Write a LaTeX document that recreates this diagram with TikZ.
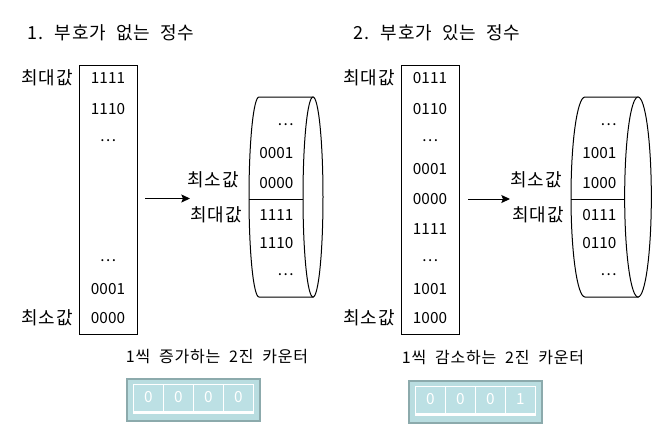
\documentclass[tikz,border=0pt]{standalone}
\usepackage{fontspec}
\setmainfont{Noto Sans CJK KR}
\newfontfamily\widekr[LetterSpace=5,WordSpace=2]{Noto Sans CJK KR}
\usetikzlibrary{arrows.meta}
\definecolor{ctrfill}{RGB}{185,221,224}
\definecolor{ctrdraw}{RGB}{140,170,172}
\definecolor{cellfill}{RGB}{188,224,228}
\begin{document}
\begin{tikzpicture}[x=0.75pt,y=-0.75pt,line width=0.75pt,
  ttl/.style={font=\widekr\fontsize{13.5}{16}\selectfont, inner sep=0, anchor=west},
  num/.style={font=\fontsize{11.5}{14}\selectfont, inner sep=0},
  rnum/.style={num, anchor=east},
  lbl/.style={font=\widekr\fontsize{13.5}{16}\selectfont, inner sep=0},
  captxt/.style={font=\widekr\fontsize{12}{14}\selectfont, inner sep=0},
  listbox/.style={draw, minimum width=43.5pt, minimum height=201.75pt, inner sep=0},
  arr/.style={-{Stealth[length=6.5pt,width=6pt,inset=1.2pt]}},
  outerbox/.style={draw=ctrdraw, fill=ctrfill, line width=1pt, minimum width=99.75pt, minimum height=31.5pt, inner sep=0},
  framebox/.style={fill=white, minimum width=90.75pt, minimum height=22.5pt, inner sep=0},
  cellbox/.style={fill=cellfill, minimum width=21.5pt, minimum height=19.5pt, inner sep=0, text=white, font=\fontsize{11.5}{14}\selectfont},
]
\useasboundingbox (0,0) rectangle (665,436);

% ================= Left part =================
\node[ttl] (t1) at (27,33) {1. 부호가 없는 정수};
\node[listbox] (r1) at (108,199.5) {};
\node[num] (a1) at (108,78) {1111};
\node[num] (a2) at (108,109) {1110};
\node[num] (a3) at (108,141) {…};
\node[num] (a4) at (108,261) {…};
\node[num] (a5) at (108,289) {0001};
\node[num] (a6) at (108,318) {0000};
\node[lbl] (l1) at (47,78) {최대값};
\node[lbl] (l2) at (47,318) {최소값};

% drum 1
\draw[fill=white] (259,97) arc[start angle=90,end angle=270,x radius=7.5pt,y radius=75pt] -- (313,297) -- (313,97) -- cycle;
\draw[fill=white] (313,197) ellipse[x radius=7.5pt,y radius=75pt];
\draw (249.2,199) -- (303.2,199);
\node[rnum] (c1) at (294,125) {…};
\node[rnum] (c2) at (294,153) {0001};
\node[rnum] (c3) at (294,183) {0000};
\node[rnum] (c4) at (294,215) {1111};
\node[rnum] (c5) at (294,243) {1110};
\node[rnum] (c6) at (294,275) {…};
\node[lbl] (m1) at (213,180) {최소값};
\node[lbl] (m2) at (216,215) {최대값};
\coordinate (p1) at (145,198.5);
\coordinate (q1) at (190,198.5);
\draw[arr] (p1) -- (q1);

% counter 1
\node[captxt] (k1) at (217,357) {1씩 증가하는 2진 카운터};
\node[outerbox] (o1) at (193.5,400) {};
\node[framebox] (f1) at (193.5,399) {};
\node[cellbox] (e1) at (148.5,397.5) {0};
\node[cellbox] (e2) at (178.5,397.5) {0};
\node[cellbox] (e3) at (208.5,397.5) {0};
\node[cellbox] (e4) at (238.5,397.5) {0};

% ================= Right part =================
\node[ttl] (t2) at (353,33) {2. 부호가 있는 정수};
\node[listbox] (r2) at (430,199.5) {};
\node[num] (b1) at (430,78) {0111};
\node[num] (b2) at (430,109) {0110};
\node[num] (b3) at (430,141) {…};
\node[num] (b4) at (430,169) {0001};
\node[num] (b5) at (430,199) {0000};
\node[num] (b6) at (430,229) {1111};
\node[num] (b7) at (430,261) {…};
\node[num] (b8) at (430,289) {1001};
\node[num] (b9) at (430,318) {1000};
\node[lbl] (l3) at (369,78) {최대값};
\node[lbl] (l4) at (369,318) {최소값};

% drum 2
\draw[fill=white] (585,97) arc[start angle=90,end angle=270,x radius=10.5pt,y radius=75pt] -- (638,297) -- (638,97) -- cycle;
\draw[fill=white] (638,197) ellipse[x radius=10pt,y radius=75pt];
\draw (571.2,199) -- (624.8,199);
\node[rnum] (d1) at (617,125) {…};
\node[rnum] (d2) at (617,153) {1001};
\node[rnum] (d3) at (617,183) {1000};
\node[rnum] (d4) at (617,215) {0111};
\node[rnum] (d5) at (617,243) {0110};
\node[rnum] (d6) at (617,275) {…};
\node[lbl] (m3) at (536,180) {최소값};
\node[lbl] (m4) at (538,215) {최대값};
\coordinate (p2) at (468,199);
\coordinate (q2) at (510,199);
\draw[arr] (p2) -- (q2);

% counter 2
\node[captxt] (k2) at (493,358) {1씩 감소하는 2진 카운터};
\node[outerbox] (o2) at (475.5,402) {};
\node[framebox] (f2) at (475.5,401) {};
\node[cellbox] (g1) at (430.5,399.5) {0};
\node[cellbox] (g2) at (460.5,399.5) {0};
\node[cellbox] (g3) at (490.5,399.5) {0};
\node[cellbox] (g4) at (520.5,399.5) {1};
\end{tikzpicture}
\end{document}
